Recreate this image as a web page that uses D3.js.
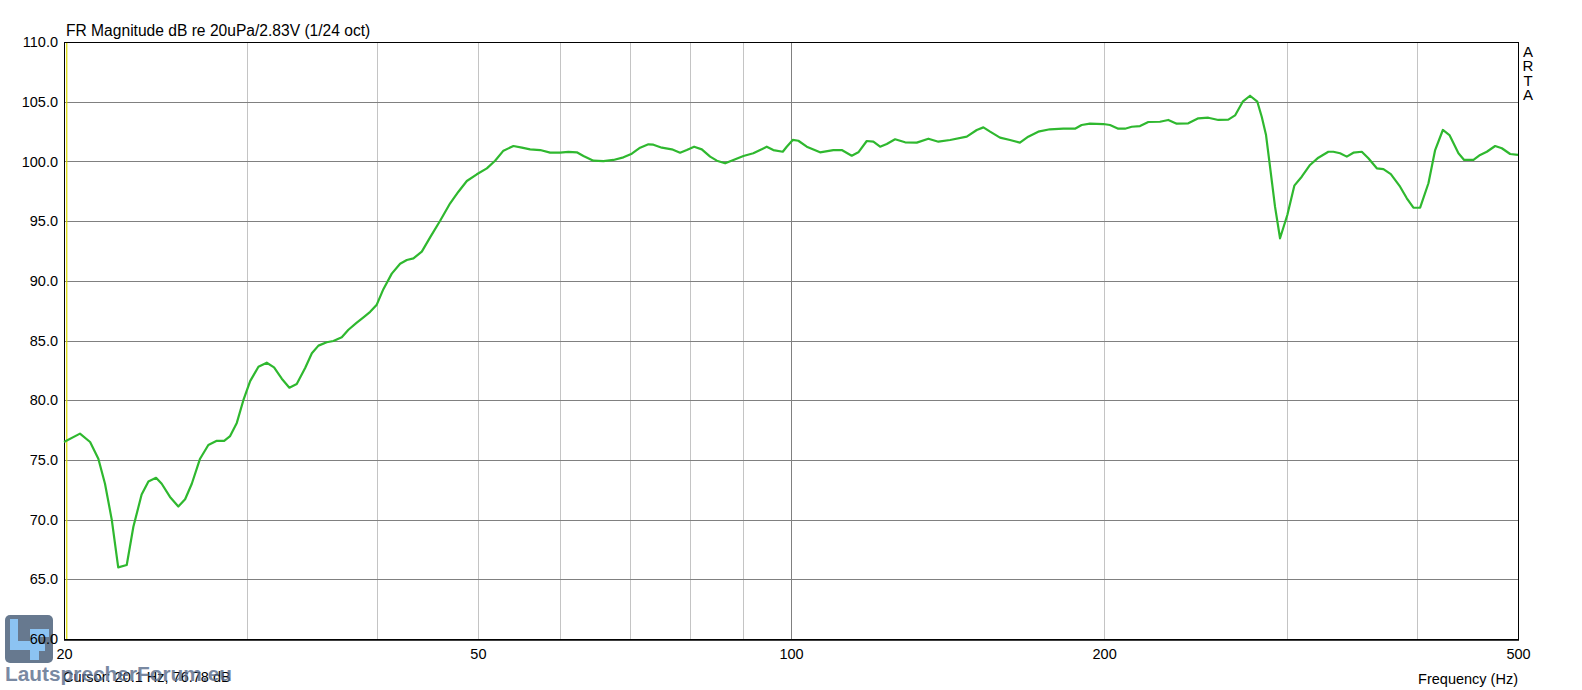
<!DOCTYPE html>
<html>
<head>
<meta charset="utf-8">
<script src="https://cdn.jsdelivr.net/npm/d3@7"></script>
<style>
  html, body { margin: 0; padding: 0; background: #ffffff; }
  svg { display: block; }
  text { font-family: "Liberation Sans", Arial, sans-serif; fill: #000; }
</style>
</head>
<body>
<svg id="chart" width="1582" height="690"></svg>
<script>
// ---- data ----
const titleText = "FR Magnitude dB re 20uPa/2.83V (1/24 oct)";
const xLabelText = "Frequency (Hz)";
const cursorText = "Cursor: 20.1 Hz, 76.78 dB";
const cursorFreq = 20.1;
const brandText = "ARTA";
const watermarkText = "LautsprecherForum.eu";

const yTicks = [60, 65, 70, 75, 80, 85, 90, 95, 100, 105, 110];
const xLabelTicks = [20, 50, 100, 200, 500];
const xGridMinor = [30, 40, 50, 60, 70, 80, 90, 200, 300, 400];
const xGridMajor = [100];

const freq = [20.0, 20.72, 21.19, 21.58, 21.90, 22.23, 22.55, 22.98, 23.32, 23.75,
  24.11, 24.52, 24.83, 25.29, 25.76, 26.15, 26.54, 27.03, 27.53, 28.05,
  28.51, 28.89, 29.32, 29.75, 30.20, 30.76, 31.33, 31.84, 32.39, 32.94,
  33.48, 34.11, 34.62, 35.13, 35.78, 36.31, 36.99, 37.54, 38.24, 38.81,
  39.39, 39.97, 40.56, 41.32, 42.09, 42.72, 43.35, 44.16, 44.98, 45.99,
  47.02, 47.89, 48.79, 49.88, 51.00, 51.94, 52.91, 54.09, 55.11, 56.13,
  57.39, 58.67, 59.98, 61.09, 62.24, 63.16, 64.57, 66.02, 67.50, 69.01,
  70.30, 71.60, 72.93, 73.74, 75.13, 76.81, 78.23, 79.40, 80.70, 82.08,
  83.61, 84.86, 86.43, 88.03, 90.00, 92.00, 93.72, 94.77, 96.16, 98.19,
  99.06, 100.39, 101.64, 103.55, 106.64, 109.82, 111.89, 114.39, 116.08, 118.26,
  120.00, 121.80, 123.62, 125.91, 128.73, 132.11, 135.55, 138.58, 142.22, 147.57,
  150.87, 153.10, 155.39, 158.83, 162.39, 166.00, 169.08, 172.87, 177.40, 182.70,
  187.50, 190.30, 193.83, 199.65, 202.62, 206.37, 209.46, 212.60, 216.56, 220.57,
  226.34, 230.54, 234.87, 240.98, 246.38, 251.90, 257.54, 263.31, 267.25, 271.84,
  276.27, 280.77, 283.52, 286.23, 288.77, 291.98, 295.24, 300.05, 304.74, 309.77,
  315.52, 321.38, 328.58, 332.23, 337.20, 342.25, 347.29, 353.82, 359.02, 365.77,
  371.17, 377.30, 385.14, 390.90, 396.66, 402.60, 410.07, 416.20, 423.37, 429.61,
  438.25, 443.81, 453.04, 459.80, 466.68, 475.33, 482.44, 491.40, 500.0];

const db = [76.5, 77.2, 76.5, 75.1, 73.0, 70.0, 66.0, 66.2, 69.4, 72.1,
  73.2, 73.5, 73.0, 71.9, 71.1, 71.7, 73.0, 75.1, 76.25, 76.6,
  76.6, 77.0, 78.1, 80.0, 81.6, 82.8, 83.14, 82.75, 81.8, 81.05,
  81.36, 82.7, 83.93, 84.57, 84.85, 84.96, 85.27, 85.9, 86.5, 86.94,
  87.4, 88.0, 89.3, 90.6, 91.43, 91.74, 91.88, 92.44, 93.64, 95.03,
  96.49, 97.46, 98.36, 98.92, 99.42, 100.06, 100.9, 101.29, 101.15, 101.01,
  100.95, 100.73, 100.73, 100.79, 100.76, 100.45, 100.06, 100.03, 100.12, 100.34,
  100.65, 101.15, 101.43, 101.4, 101.15, 101.01, 100.73, 100.95, 101.23, 101.01,
  100.4, 100.06, 99.84, 100.12, 100.45, 100.68, 101.01, 101.23, 100.95, 100.81,
  101.23, 101.8, 101.73, 101.23, 100.76, 100.95, 100.95, 100.48, 100.76, 101.71,
  101.65, 101.23, 101.46, 101.85, 101.6, 101.57, 101.9, 101.65, 101.79, 102.07,
  102.63, 102.85, 102.49, 101.99, 101.79, 101.57, 102.07, 102.49, 102.69, 102.74,
  102.74, 103.05, 103.16, 103.13, 103.05, 102.74, 102.74, 102.9, 102.96, 103.3,
  103.32, 103.47, 103.16, 103.19, 103.61, 103.66, 103.47, 103.5, 103.85, 105.0,
  105.5, 105.0, 103.74, 102.21, 99.56, 96.21, 93.56, 95.51, 97.97, 98.72,
  99.7, 100.31, 100.81, 100.81, 100.68, 100.4, 100.73, 100.81, 100.26, 99.42,
  99.36, 98.94, 97.88, 96.91, 96.12, 96.12, 98.17, 100.95, 102.63, 102.21,
  100.68, 100.12, 100.12, 100.54, 100.81, 101.29, 101.1, 100.62, 100.54];

// ---- layout ----
const plot = { left: 64, right: 1518, top: 42, bottom: 639 };

const svg = d3.select("#chart");
const x = d3.scaleLog().domain([20, 500]).range([plot.left, plot.right]);
const y = d3.scaleLinear().domain([60, 110]).range([plot.bottom, plot.top]);

// watermark logo box (behind the chart text)
const wm = svg.append("g");
wm.append("rect").attr("x", 5).attr("y", 615).attr("width", 48).attr("height", 48).attr("rx", 5)
  .attr("fill", "#67798f");
wm.append("rect").attr("x", 10).attr("y", 619).attr("width", 8).attr("height", 31).attr("fill", "#8cc3f2");
wm.append("rect").attr("x", 10).attr("y", 641).attr("width", 27).attr("height", 9).attr("fill", "#8cc3f2");
wm.append("rect").attr("x", 30).attr("y", 629).attr("width", 9).attr("height", 31).attr("fill", "#8cc3f2");
wm.append("rect").attr("x", 30).attr("y", 629).attr("width", 19).attr("height", 8).attr("fill", "#8cc3f2");
wm.append("rect").attr("x", 30).attr("y", 644).attr("width", 15).attr("height", 7).attr("fill", "#8cc3f2");

// gridlines
const grid = svg.append("g");
grid.selectAll("line.vmin").data(xGridMinor).enter().append("line")
  .attr("x1", d => Math.round(x(d)) + 0.5).attr("x2", d => Math.round(x(d)) + 0.5)
  .attr("y1", plot.top).attr("y2", plot.bottom)
  .attr("stroke", "#c4c4c4").attr("stroke-width", 1);
grid.selectAll("line.vmaj").data(xGridMajor).enter().append("line")
  .attr("x1", d => Math.round(x(d)) + 0.5).attr("x2", d => Math.round(x(d)) + 0.5)
  .attr("y1", plot.top).attr("y2", plot.bottom)
  .attr("stroke", "#808080").attr("stroke-width", 1);
grid.selectAll("line.h").data(yTicks.filter(v => v > 60 && v < 110)).enter().append("line")
  .attr("x1", plot.left).attr("x2", plot.right)
  .attr("y1", d => Math.round(y(d)) + 0.5).attr("y2", d => Math.round(y(d)) + 0.5)
  .attr("stroke", "#808080").attr("stroke-width", 1);

// cursor line
svg.append("line")
  .attr("x1", x(cursorFreq) + 0.5).attr("x2", x(cursorFreq) + 0.5)
  .attr("y1", plot.top).attr("y2", plot.bottom)
  .attr("stroke", "#d8d800").attr("stroke-width", 1.2);

// frame
svg.append("rect")
  .attr("x", plot.left + 0.5).attr("y", plot.top + 0.5)
  .attr("width", plot.right - plot.left).attr("height", plot.bottom - plot.top)
  .attr("fill", "none").attr("stroke", "#000").attr("stroke-width", 1);
svg.append("line")
  .attr("x1", plot.left).attr("x2", plot.right + 1)
  .attr("y1", plot.bottom + 1).attr("y2", plot.bottom + 1)
  .attr("stroke", "#000").attr("stroke-width", 1.5);

// curve
const pts = freq.map((f, i) => ({ f, v: db[i] }));
const line = d3.line().x(d => x(d.f)).y(d => y(d.v));
svg.append("path").datum(pts)
  .attr("d", line)
  .attr("fill", "none")
  .attr("stroke", "#2fb82f")
  .attr("stroke-width", 2.2)
  .attr("stroke-linejoin", "round");

// axes (labels only)
const yAxis = d3.axisLeft(y).tickValues(yTicks).tickFormat(d3.format(".1f")).tickSize(0).tickPadding(6);
const gy = svg.append("g").attr("transform", `translate(${plot.left},0)`).call(yAxis);
gy.select(".domain").remove();
gy.selectAll("text").style("font-size", "14.5px").attr("fill", "#000")
  .style("font-family", '"Liberation Sans", Arial, sans-serif');

const xAxis = d3.axisBottom(x).tickValues(xLabelTicks).tickFormat(d => String(d)).tickSize(0).tickPadding(10);
const gx = svg.append("g").attr("transform", `translate(0,${plot.bottom})`).call(xAxis);
gx.select(".domain").remove();
gx.selectAll("text").style("font-size", "14.5px").attr("fill", "#000")
  .style("font-family", '"Liberation Sans", Arial, sans-serif');

// title and labels
svg.append("text").attr("x", 66).attr("y", 36).style("font-size", "15.6px").text(titleText);
svg.append("text").attr("x", plot.right).attr("y", 684).attr("text-anchor", "end")
  .style("font-size", "14.5px").text(xLabelText);
svg.append("text").attr("x", 63).attr("y", 682).style("font-size", "14.5px").text(cursorText);

// ARTA vertical letters
svg.append("g").selectAll("text").data(brandText.split("")).enter().append("text")
  .attr("x", 1528).attr("y", (d, i) => 56.5 + i * 14.6)
  .attr("text-anchor", "middle").style("font-size", "15px").text(d => d);

// watermark text, semi-transparent over the cursor readout
svg.append("text").attr("x", 5).attr("y", 681)
  .attr("textLength", 227).attr("lengthAdjust", "spacingAndGlyphs")
  .style("font-size", "20px").style("font-weight", "bold")
  .style("fill", "#586c8c").attr("opacity", 0.8)
  .text(watermarkText);
</script>
</body>
</html>
